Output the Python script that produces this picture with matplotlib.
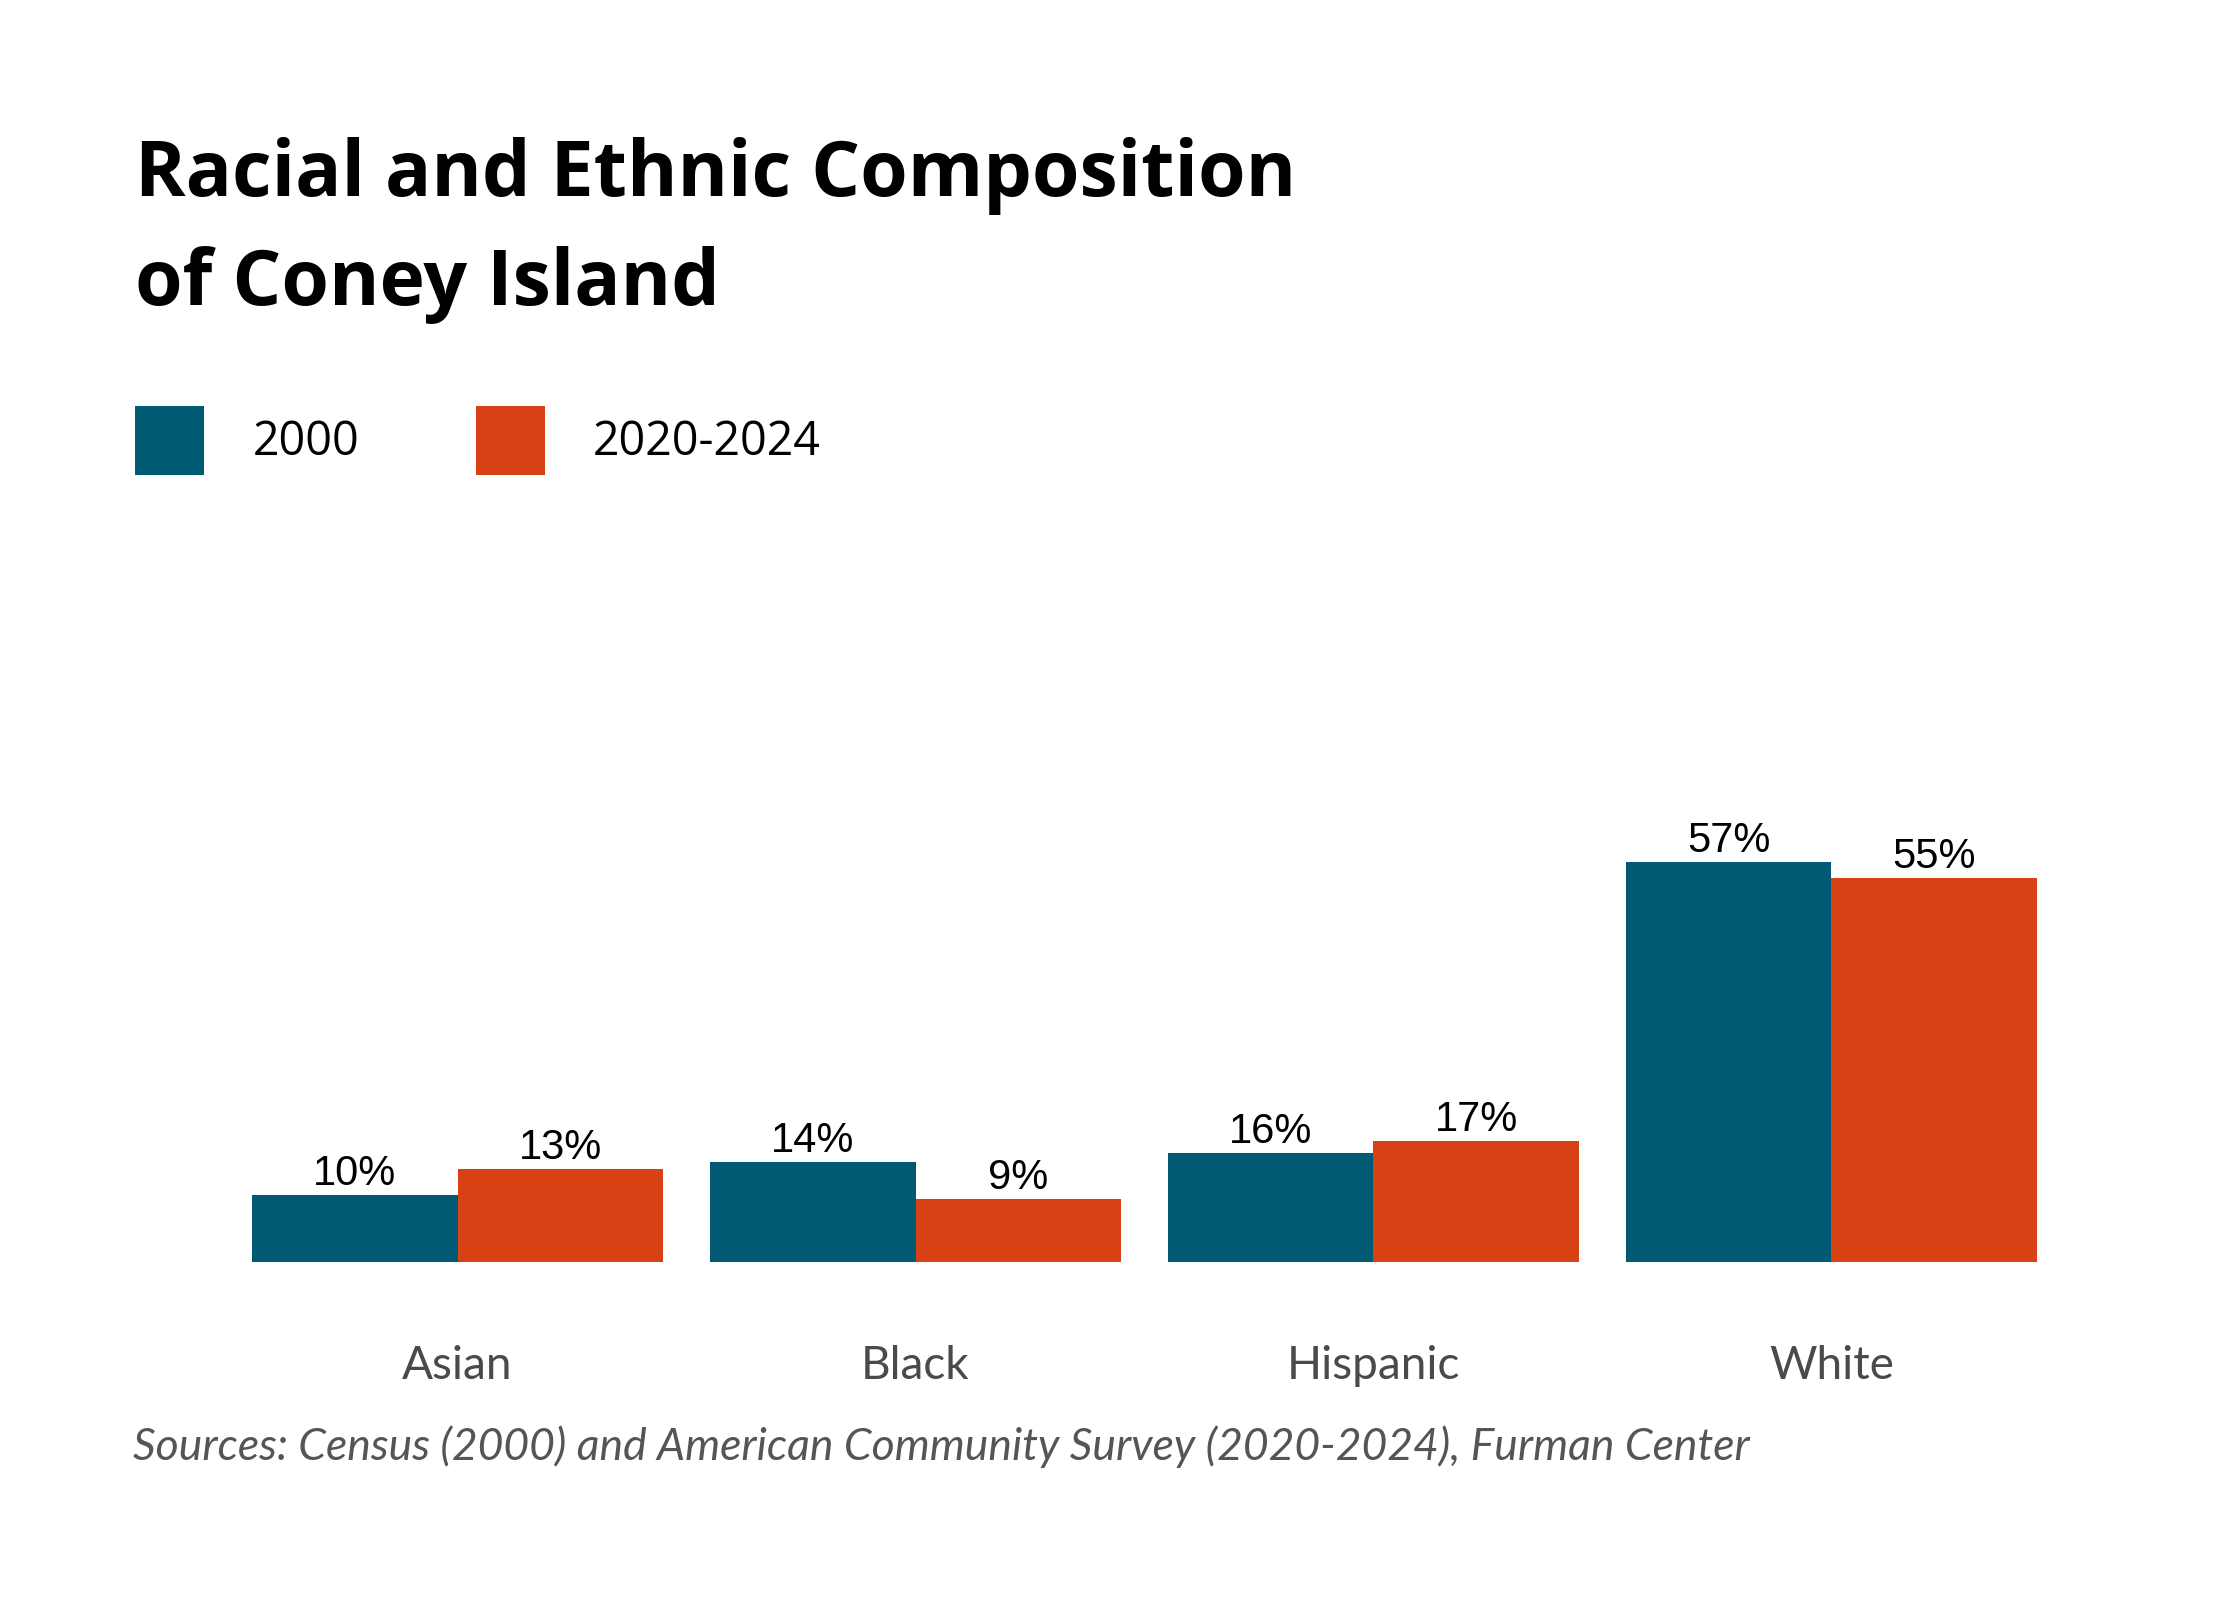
import matplotlib
matplotlib.use('Agg')
import matplotlib.pyplot as plt
from matplotlib.patches import Rectangle
import numpy as np

# -------------------------------
# Data
# -------------------------------
categories = ['Asian', 'Black', 'Hispanic', 'White']
series_names = ['2000', '2020-2024']
values_2000 = [9.6, 14.4, 15.7, 57.4]
values_2020 = [13.4, 9.1, 17.3, 55.1]

title_lines = ['Racial and Ethnic Composition', 'of Coney Island']
source_text = 'Sources: Census (2000) and American Community Survey (2020-2024), Furman Center'

# -------------------------------
# Styles
# -------------------------------
teal = '#015a73'
orange = '#d84113'
W, H = 2240, 1600
dpi = 200

fig = plt.figure(figsize=(W / dpi, H / dpi), dpi=dpi)
fig.patch.set_facecolor('white')

# axes placed in pixel terms (converted to figure fractions)
ax_left, ax_right = 228.6, 2060.4
ax_bottom, ax_top = 1262, 844
ax = fig.add_axes([ax_left / W, 1 - ax_bottom / H,
                   (ax_right - ax_left) / W, (ax_bottom - ax_top) / H])

x = np.arange(len(categories))
bw = 0.449
bars1 = ax.bar(x - bw / 2, values_2000, width=bw, color=teal, linewidth=0)
bars2 = ax.bar(x + bw / 2, values_2020, width=bw, color=orange, linewidth=0)

for bars, vals in [(bars1, values_2000), (bars2, values_2020)]:
    for b, v in zip(bars, vals):
        ax.text(b.get_x() + b.get_width() / 2, v + 0.15, f'{v:.0f}%',
                ha='center', va='bottom', fontsize=15,
                family='Liberation Sans', color='black', clip_on=False)

ax.set_xlim(-0.5, 3.5)
ax.set_ylim(0, 60)
ax.set_yticks([])
ax.set_xticks(x)
ax.set_xticklabels(categories, fontsize=16.5, family='Lato', color='#4a4a4a')
ax.tick_params(axis='x', length=0, pad=30)
for s in ax.spines.values():
    s.set_visible(False)

# -------------------------------
# Title
# -------------------------------
fig.text(135 / W, 1 - 196 / H, title_lines[0], fontsize=27.7, fontweight='bold',
         family='Open Sans', va='baseline', ha='left')
fig.text(135 / W, 1 - 305 / H, title_lines[1], fontsize=27.7, fontweight='bold',
         family='Open Sans', va='baseline', ha='left')

# -------------------------------
# Legend
# -------------------------------
sq = 69
for px, col, lbl, tx in [(135, teal, series_names[0], 253),
                         (476, orange, series_names[1], 593)]:
    fig.add_artist(Rectangle((px / W, 1 - 475 / H), sq / W, sq / H,
                             transform=fig.transFigure, color=col, linewidth=0))
    fig.text(tx / W, 1 - 442 / H, lbl, fontsize=16.8, family='Open Sans',
             va='center', ha='left', color='black')

# -------------------------------
# Source
# -------------------------------
fig.text(133 / W, 1 - 1447 / H, source_text, fontsize=16, style='italic',
         family='Lato', color='#555555', va='center', ha='left')

fig.savefig('out.png', dpi=dpi, facecolor='white')
